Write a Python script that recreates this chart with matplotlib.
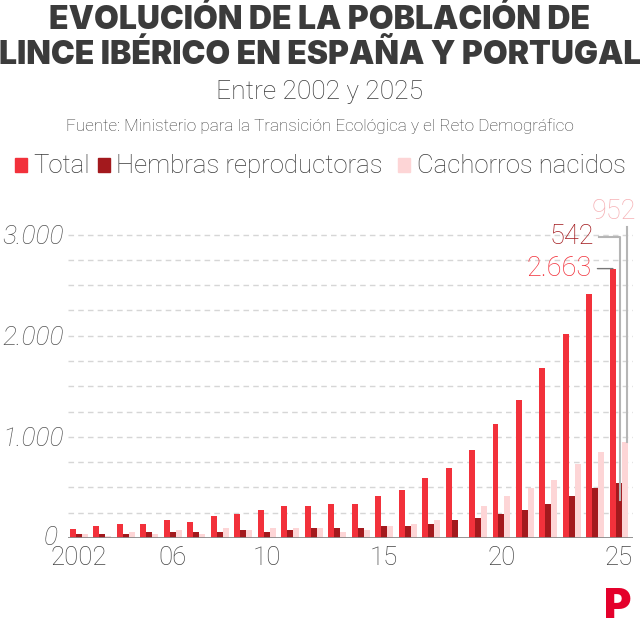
import numpy as np
import matplotlib.pyplot as plt
from matplotlib.patches import Rectangle

plt.rcParams['font.family'] = ['Roboto', 'DejaVu Sans']

years = np.arange(2002, 2026)
total = [94, 119, 139, 139, 178, 158, 218, 237, 277, 317, 317, 337,
         337, 416, 475, 594, 693, 871, 1128, 1365, 1682, 2018, 2414, 2663]
hembras = [40, 40, 40, 59, 59, 59, 59, 79, 59, 79, 99, 99,
           99, 119, 119, 139, 178, 198, 237, 277, 337, 416, 495, 542]
cachorros = [40, 20, 59, 40, 79, 40, 99, 79, 99, 99, 99, 59,
             79, 119, 139, 178, np.nan, 317, 416, 495, 574, 732, 851, 952]
xtick_years = [2002, 2006, 2010, 2015, 2020, 2025]
xtick_labels = ['2002', '06', '10', '15', '20', '25']
yticks = [1000, 2000, 3000]
ytick_labels = ['1.000', '2.000', '3.000']

c_total = '#f2313b'
c_hembras = '#a3191d'
c_cach = '#fdd5d6'
dark = '#3b3b3b'

fig = plt.figure(figsize=(6.4, 6.36), dpi=100)
ax = fig.add_axes([0.106, 0.154, 0.883, 0.525])

w = 0.255
ax.bar(years - w, total, w, color=c_total, zorder=3)
ax.bar(years, hembras, w, color=c_hembras, zorder=3)
ax.bar(years + w, cachorros, w, color=c_cach, zorder=3)

ax.set_xlim(2001.53, 2025.6)
ax.set_ylim(0, 3300)
for v in range(250, 3001, 250):
    ax.axhline(v, color='#d6d6d6', lw=1, ls=(0, (4, 3)), zorder=1)
ax.axhline(0, color='#8a8a8a', lw=2, zorder=4)

for s in ax.spines.values():
    s.set_visible(False)
ax.set_xticks(xtick_years)
ax.set_xticklabels(xtick_labels, fontsize=18.5, color='#444444', fontweight='light')
ax.set_yticks(yticks)
ax.set_yticklabels(ytick_labels, fontsize=19, color='#555555', style='italic',
                   fontweight='light')
ax.tick_params(length=0)
ax.tick_params(axis='x', pad=6)
ax.tick_params(axis='y', pad=3)
# zero label sits a bit further left in the original
ax.text(2001.12, 0, '0', ha='right', va='center', fontsize=19, color='#555555',
        style='italic', fontweight='light')

# last-value annotations
last = years[-1]
ax.annotate(f'{total[-1]:,}'.replace(',', '.'), xy=(last - w, total[-1]),
            xytext=(2023.85, total[-1]), ha='right', va='center',
            fontsize=19.5, color=c_total, fontweight='light',
            arrowprops=dict(arrowstyle='-', color='#777777', lw=1,
                            shrinkA=2, shrinkB=0))
ax.plot([2024.15, last + 0.05, last + 0.05], [2980, 2980, 380],
        color='#b5b5b5', lw=1.5, zorder=5)
ax.text(2023.95, 2980, str(hembras[-1]), ha='right', va='center', fontsize=19.5,
        color=c_hembras, fontweight='light')
ax.plot([last + 0.33, last + 0.33], [3070, cachorros[-1]],
        color='#b5b5b5', lw=1.5, zorder=5, clip_on=False)
ax.text(2025.75, 3230, str(cachorros[-1]), ha='right', va='center', fontsize=19.5,
        color='#f6b1b5', fontweight='light', clip_on=False)

# titles
fig.text(0.5, 0.968, 'EVOLUCIÓN DE LA POBLACIÓN DE', ha='center', va='center',
         fontsize=23, fontweight='black', family='Inter', color=dark)
fig.text(0.5, 0.913, 'LINCE IBÉRICO EN ESPAÑA Y PORTUGAL', ha='center',
         va='center', fontsize=23, fontweight='black', family='Inter', color=dark)
fig.text(0.5, 0.855, 'Entre 2002 y 2025', ha='center', va='center',
         fontsize=19, fontweight='light', color=dark)
fig.text(0.5, 0.802, 'Fuente: Ministerio para la Transición Ecológica y el Reto Demográfico',
         ha='center', va='center', fontsize=12.3, fontweight='light', color=dark)

# legend
items = [('Total', c_total, 0.023), ('Hembras reproductoras', c_hembras, 0.153),
         ('Cachorros nacidos', c_cach, 0.622)]
for label, col, x in items:
    fig.patches.append(Rectangle((x, 0.7296), 0.019, 0.022, color=col,
                                 transform=fig.transFigure, figure=fig))
    fig.text(x + 0.029, 0.739, label, ha='left', va='center', fontsize=18.5,
             fontweight='light', color=dark)

# logo
fig.text(0.965, 0.045, 'P', ha='center', va='center', fontsize=30,
         fontweight='black', family='Inter', color='#e4002b')

fig.savefig('out.png', dpi=100, facecolor='white')
